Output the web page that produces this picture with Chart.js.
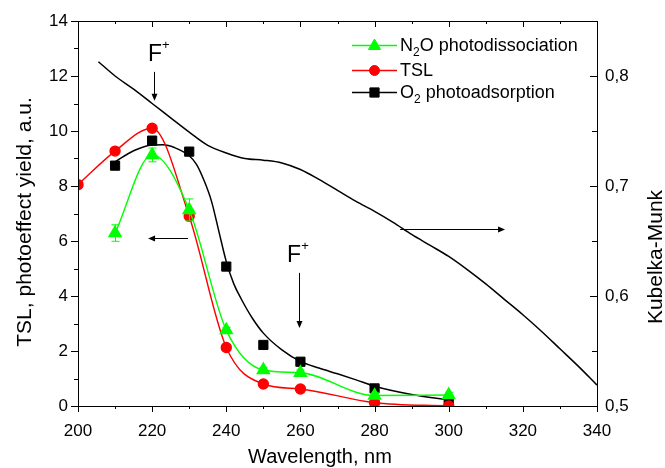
<!DOCTYPE html>
<html><head><meta charset="utf-8">
<script src="https://cdn.jsdelivr.net/npm/chart.js@4.4.1/dist/chart.umd.min.js"></script>
<style>html,body{margin:0;padding:0;background:#fff}#wrap{width:665px;height:468px}</style>
</head><body><div id="wrap"><canvas id="c" width="665" height="468"></canvas></div>
<script>
// ---- data ----
const wavelengths = [210, 220, 230, 240, 250, 260, 280, 300];
const tslWavelengths = [200, 210, 220, 230, 240, 250, 260, 280, 300];
const tslValues = [8.05, 9.27, 10.1, 6.9, 2.13, 0.8, 0.62, 0.12, 0.0];
const n2oValues = [6.29, 9.13, 7.13, 2.76, 1.31, 1.21, 0.38, 0.40];
const n2oErrors = [0.3, 0.25, 0.4, 0.1, 0.1, 0.1, 0.1, 0.1];
const o2Values = [8.74, 9.65, 9.25, 5.07, 2.22, 1.61, 0.64, 0.18];
const o2FitWavelengths = [210, 215, 220, 223, 226, 230, 232, 234, 236, 238, 240, 242, 244, 247, 250, 255, 260, 265, 270, 275, 280, 290, 300];
const o2FitValues = [8.88, 9.28, 9.49, 9.5, 9.4, 9.1, 8.78, 8.2, 7.45, 6.35, 5.25, 4.45, 3.9, 3.2, 2.65, 2.04, 1.62, 1.38, 1.17, 0.95, 0.72, 0.42, 0.22];
const kmWavelengths = [205.5, 210, 215, 220, 225, 230, 235, 240, 245, 250, 255, 260, 265, 270, 275, 280, 285, 290, 295, 300, 305, 310, 315, 320, 325, 330, 335, 340];
const kmValues = [0.813, 0.80, 0.788, 0.775, 0.762, 0.749, 0.737, 0.730, 0.725, 0.7235, 0.721, 0.715, 0.706, 0.696, 0.686, 0.677, 0.667, 0.656, 0.646, 0.636, 0.624, 0.611, 0.597, 0.583, 0.568, 0.552, 0.536, 0.519];
const xTickValues = [200, 220, 240, 260, 280, 300, 320, 340];
const yLeftTickValues = [0, 2, 4, 6, 8, 10, 12, 14];
const yRightTickValues = [0.5, 0.6, 0.7, 0.8];
const seriesNames = ['N2O photodissociation', 'TSL', 'O2 photoadsorption'];

// annotation anchors in data coordinates
const fLabels = [{x: 220.8, y: 12.55}, {x: 258.3, y: 5.24}];
const vArrows = [{x: 220.5, y1: 12.15, y2: 11.1}, {x: 259.5, y1: 4.84, y2: 2.84}];
const hArrows = [{y: 6.1, x1: 229.7, x2: 218.9}, {y: 6.44, x1: 286.9, x2: 315.2}];

const FONT = '"Liberation Sans", Arial, sans-serif';
const GREEN = '#00ff00', RED = '#ff0000', BLACK = '#000000';

const pts = (xs, ys) => xs.map((x, i) => ({x: x, y: ys[i]}));

function marker(ctx, style, x, y, r, color) {
  ctx.save();
  ctx.fillStyle = color; ctx.strokeStyle = color; ctx.lineWidth = 1;
  ctx.beginPath();
  if (style === 'triangle') {
    ctx.moveTo(x, y - r);
    ctx.lineTo(x + Math.sin(Math.PI / 3) * r, y + r / 2);
    ctx.lineTo(x - Math.sin(Math.PI / 3) * r, y + r / 2);
    ctx.closePath();
  } else if (style === 'circle') {
    ctx.arc(x, y, r, 0, Math.PI * 2);
  } else {
    const s = r * Math.SQRT1_2;
    ctx.rect(x - s, y - s, 2 * s, 2 * s);
  }
  ctx.fill(); ctx.stroke();
  ctx.restore();
}

function arrowHead(ctx, x, y, dx, dy) {
  const len = 7, w = 3;
  const n = Math.hypot(dx, dy); const ux = dx / n, uy = dy / n;
  ctx.beginPath();
  ctx.moveTo(x, y);
  ctx.lineTo(x - ux * len - uy * w, y - uy * len + ux * w);
  ctx.lineTo(x - ux * len + uy * w, y - uy * len - ux * w);
  ctx.closePath(); ctx.fill();
}

function drawRich(ctx, parts, x, y, size) {
  let cx = x;
  parts.forEach(([t, sub]) => {
    ctx.font = (sub ? Math.round(size * 0.65) : size) + 'px ' + FONT;
    ctx.fillText(t, cx, y + (sub ? size * 0.35 : 0));
    cx += ctx.measureText(t).width;
  });
}

const decor = {
  id: 'decor',
  afterDatasetsDraw(chart) {
    const ctx = chart.ctx, xs = chart.scales.x, ys = chart.scales.y;
    ctx.save();
    ctx.strokeStyle = GREEN; ctx.lineWidth = 1;
    wavelengths.forEach((w, i) => {
      const px = Math.round(xs.getPixelForValue(w)) + 0.5;
      const t = ys.getPixelForValue(n2oValues[i] + n2oErrors[i]);
      const b = ys.getPixelForValue(n2oValues[i] - n2oErrors[i]);
      ctx.beginPath();
      ctx.moveTo(px, t); ctx.lineTo(px, b);
      ctx.moveTo(px - 4, t); ctx.lineTo(px + 4, t);
      ctx.moveTo(px - 4, b); ctx.lineTo(px + 4, b);
      ctx.stroke();
    });
    ctx.restore();
  },
  afterDraw(chart) {
    const ctx = chart.ctx, ca = chart.chartArea;
    const xs = chart.scales.x, ys = chart.scales.y, y2 = chart.scales.y2;
    ctx.save();
    ctx.strokeStyle = BLACK; ctx.fillStyle = BLACK; ctx.lineWidth = 1;
    ctx.strokeRect(ca.left + 0.5, ca.top + 0.5, ca.right - ca.left, ca.bottom - ca.top);
    ctx.beginPath();
    for (let v = 200; v <= 340; v += 10) {
      const px = Math.round(xs.getPixelForValue(v)) + 0.5;
      const L = (v % 20 === 0) ? 6 : 3;
      ctx.moveTo(px, ca.bottom); ctx.lineTo(px, ca.bottom + L);
      ctx.moveTo(px, ca.top); ctx.lineTo(px, ca.top + L);
    }
    for (let v = 0; v <= 14; v += 1) {
      const py = Math.round(ys.getPixelForValue(v)) + 0.5;
      const L = (v % 2 === 0) ? 7 : 4;
      ctx.moveTo(ca.left, py); ctx.lineTo(ca.left - L, py);
    }
    for (let k = 0; k <= 6; k++) {
      const v = 0.5 + k * 0.05;
      const py = Math.round(y2.getPixelForValue(v)) + 0.5;
      const L = (k % 2 === 0) ? 7 : 5;
      ctx.moveTo(ca.right, py); ctx.lineTo(ca.right - L, py);
    }
    ctx.stroke();

    vArrows.forEach(a => {
      const px = Math.round(xs.getPixelForValue(a.x)) + 0.5;
      const p1 = ys.getPixelForValue(a.y1), p2 = ys.getPixelForValue(a.y2);
      ctx.beginPath(); ctx.moveTo(px, p1); ctx.lineTo(px, p2 - 5); ctx.stroke();
      arrowHead(ctx, px, p2, 0, 1);
    });
    hArrows.forEach(a => {
      const py = Math.round(ys.getPixelForValue(a.y)) + 0.5;
      const p1 = xs.getPixelForValue(a.x1), p2 = xs.getPixelForValue(a.x2);
      const d = p2 > p1 ? 1 : -1;
      ctx.beginPath(); ctx.moveTo(p1, py); ctx.lineTo(p2 - d * 5, py); ctx.stroke();
      arrowHead(ctx, p2, py, d, 0);
    });
    ctx.textBaseline = 'alphabetic';
    fLabels.forEach(f => {
      const px = xs.getPixelForValue(f.x), py = ys.getPixelForValue(f.y);
      ctx.font = '23px ' + FONT; ctx.textAlign = 'center';
      ctx.fillText('F', px, py);
      ctx.font = '13px ' + FONT; ctx.textAlign = 'left';
      ctx.fillText('+', px + 7, py - 12);
    });

    const rows = [
      {y: 45, color: GREEN, style: 'triangle', r: 7, parts: [['N', false], ['2', true], ['O photodissociation', false]]},
      {y: 70, color: RED, style: 'circle', r: 5, parts: [['TSL', false]]},
      {y: 92, color: BLACK, style: 'rect', r: 6.5, parts: [['O', false], ['2', true], [' photoadsorption', false]]}
    ];
    rows.forEach(r => {
      ctx.strokeStyle = r.color; ctx.lineWidth = 1.3;
      ctx.beginPath(); ctx.moveTo(352, r.y + 0.5); ctx.lineTo(397, r.y + 0.5); ctx.stroke();
      marker(ctx, r.style, 374.5, r.y + (r.style === 'triangle' ? 1 : 0.5), r.r, r.color);
      ctx.fillStyle = BLACK; ctx.textAlign = 'left'; ctx.textBaseline = 'middle';
      drawRich(ctx, r.parts, 400, r.y + 1, 18);
    });

    ctx.fillStyle = BLACK; ctx.textBaseline = 'alphabetic'; ctx.textAlign = 'center';
    ctx.font = '20px ' + FONT;
    ctx.fillText('Wavelength, nm', 320, 463);
    ctx.save();
    ctx.translate(31, 222); ctx.rotate(-Math.PI / 2);
    ctx.font = '21px ' + FONT; ctx.fillText('TSL, photoeffect yield, a.u.', 0, 0);
    ctx.restore();
    ctx.save();
    ctx.translate(662, 257); ctx.rotate(-Math.PI / 2);
    ctx.font = '21px ' + FONT; ctx.fillText('Kubelka-Munk', 0, 0);
    ctx.restore();
    ctx.restore();
  }
};

new Chart(document.getElementById('c'), {
  type: 'line',
  data: {
    datasets: [
      {label: seriesNames[0], data: pts(wavelengths, n2oValues), yAxisID: 'y', borderColor: GREEN, backgroundColor: GREEN,
        borderWidth: 1.4, pointStyle: 'triangle', pointRadius: 7, cubicInterpolationMode: 'monotone'},
      {label: seriesNames[1], data: pts(tslWavelengths, tslValues), yAxisID: 'y', borderColor: RED, backgroundColor: RED,
        borderWidth: 1.4, pointStyle: 'circle', pointRadius: 5, cubicInterpolationMode: 'monotone'},
      {label: seriesNames[2], data: pts(wavelengths, o2Values), yAxisID: 'y', borderColor: BLACK, backgroundColor: BLACK,
        showLine: false, pointStyle: 'rect', pointRadius: 6.5},
      {label: 'O2 fit', data: pts(o2FitWavelengths, o2FitValues), yAxisID: 'y', borderColor: BLACK,
        borderWidth: 1.5, pointRadius: 0, cubicInterpolationMode: 'monotone'},
      {label: 'Kubelka-Munk', data: pts(kmWavelengths, kmValues), yAxisID: 'y2', borderColor: BLACK,
        borderWidth: 1.5, pointRadius: 0, cubicInterpolationMode: 'monotone'}
    ]
  },
  options: {
    responsive: false, animation: false, devicePixelRatio: 1,
    layout: {padding: {top: 21, left: 0, right: 0, bottom: 0}},
    plugins: {legend: {display: false}, tooltip: {enabled: false}},
    scales: {
      x: {type: 'linear', position: 'bottom', min: 200, max: 340,
        afterBuildTicks: s => { s.ticks = xTickValues.map(v => ({value: v})); },
        afterFit: s => { s.height = 62; },
        grid: {display: false, drawTicks: false}, border: {display: false},
        ticks: {color: BLACK, font: {family: FONT, size: 17}, padding: 15, maxRotation: 0}},
      y: {type: 'linear', position: 'left', min: 0, max: 14,
        afterBuildTicks: s => { s.ticks = yLeftTickValues.map(v => ({value: v})); },
        afterFit: s => { s.width = 78; },
        grid: {display: false, drawTicks: false}, border: {display: false},
        ticks: {color: BLACK, font: {family: FONT, size: 17}, padding: 10}},
      y2: {type: 'linear', position: 'right', min: 0.5, max: 0.85,
        afterBuildTicks: s => { s.ticks = yRightTickValues.map(v => ({value: v})); },
        afterFit: s => { s.width = 68; },
        grid: {display: false, drawTicks: false}, border: {display: false},
        ticks: {color: BLACK, font: {family: FONT, size: 17}, padding: 8,
          callback: v => v.toFixed(1).replace('.', ',')}}
    }
  },
  plugins: [decor]
});
</script></body></html>
